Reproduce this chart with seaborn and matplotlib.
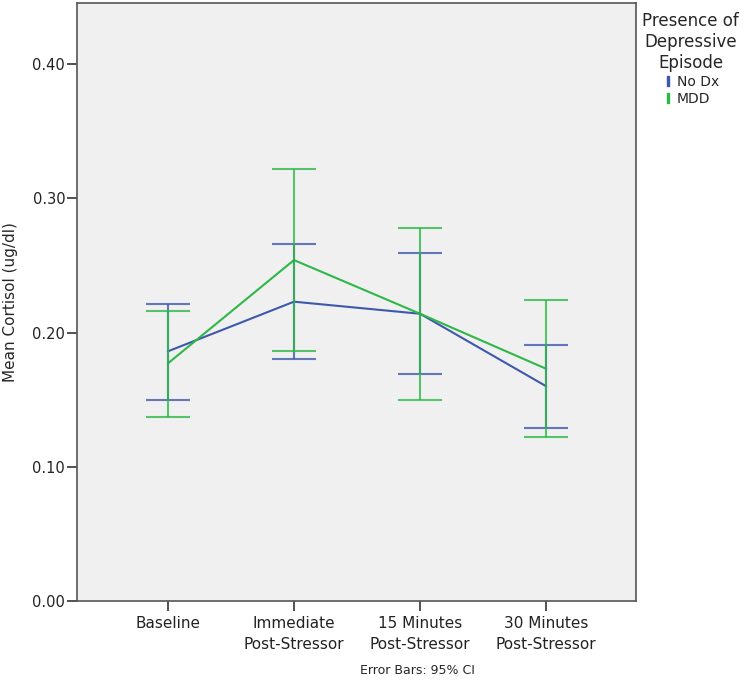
import matplotlib
matplotlib.use("Agg")
import matplotlib.pyplot as plt
import numpy as np
import pandas as pd
import seaborn as sns
from matplotlib.lines import Line2D

# values
categories = ["Baseline", "Immediate\nPost-Stressor", "15 Minutes\nPost-Stressor", "30 Minutes\nPost-Stressor"]
groups = ["No Dx", "MDD"]
nodx_mean = [0.186, 0.223, 0.214, 0.160]
nodx_low = [0.150, 0.180, 0.169, 0.129]
nodx_high = [0.221, 0.266, 0.259, 0.191]
mdd_mean = [0.177, 0.254, 0.214, 0.173]
mdd_low = [0.137, 0.186, 0.150, 0.122]
mdd_high = [0.216, 0.322, 0.278, 0.224]
y_ticks = [0.0, 0.1, 0.2, 0.3, 0.4]

colors = {"No Dx": "#3e58ac", "MDD": "#2eb848"}

rows = []
for g, mean, low, high in [("No Dx", nodx_mean, nodx_low, nodx_high),
                           ("MDD", mdd_mean, mdd_low, mdd_high)]:
    for i, cat in enumerate(categories):
        rows.append({"group": g, "pos": i, "mean": mean[i], "low": low[i], "high": high[i]})
df = pd.DataFrame(rows)

sns.set_style("ticks")
plt.rcParams["font.family"] = ["DejaVu Sans"]

fig = plt.figure(figsize=(7.5, 6.83), dpi=100)
ax = fig.add_axes([0.1027, 0.12, 0.745, 0.8756])
ax.set_facecolor("#f0f0f0")

sns.lineplot(data=df, x="pos", y="mean", hue="group", palette=colors,
             hue_order=groups, linewidth=1.5, ax=ax, legend=False, sort=False)

for g in groups:
    sub = df[df["group"] == g]
    ax.errorbar(sub["pos"], sub["mean"],
                yerr=[sub["mean"] - sub["low"], sub["high"] - sub["mean"]],
                fmt="none", ecolor=colors[g], elinewidth=1.5, capsize=15.5,
                capthick=1.5, alpha=0.8)

ax.set_xlim(-0.72, 3.71)
ax.set_ylim(0, 0.4455)
ax.set_xticks(range(len(categories)))
ax.set_xticklabels(categories, fontsize=11, color="#222222", linespacing=1.45)
ax.set_yticks(y_ticks)
ax.set_yticklabels([f"{v:.2f}" for v in y_ticks], fontsize=10.5, color="#222222")
ax.tick_params(axis="both", direction="out", length=7, width=1.2, color="#333333")
ax.tick_params(axis="y", pad=1.5)
ax.tick_params(axis="x", pad=4)
ax.set_xlabel("")
ax.set_ylabel("Mean Cortisol (ug/dl)", fontsize=11, labelpad=10)
for spine in ax.spines.values():
    spine.set_visible(True)
    spine.set_color("#555555")
    spine.set_linewidth(1.2)

handles = [Line2D([], [], linestyle="none", marker=r"$\mathrm{I}$", markersize=7,
                  color=colors[g]) for g in groups]
leg = fig.legend(handles, groups, title="Presence of\nDepressive\nEpisode",
                 loc="upper center", bbox_to_anchor=(0.921, 0.99), frameon=False,
                 fontsize=10, title_fontsize=12, handletextpad=0.2,
                 handlelength=0.8, borderaxespad=0, labelspacing=0.2)
leg.get_title().set_multialignment("center")

fig.text(0.557, 0.018, "Error Bars: 95% CI", ha="center", va="center", fontsize=9)

fig.savefig("out.png", dpi=100)
